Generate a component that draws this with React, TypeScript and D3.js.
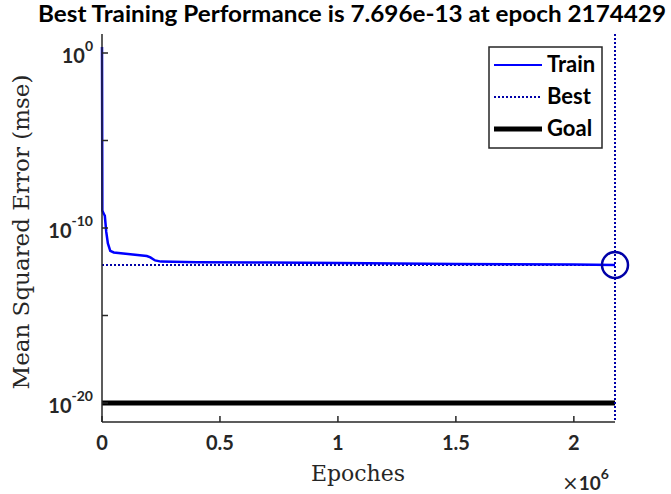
import React from "react";
import * as d3 from "d3";

const epochs = [0, 1500, 6000, 12000, 18000, 25000, 35000, 50000, 120000, 190000, 205000, 225000, 250000, 400000, 700000, 1000000, 1500000, 2000000, 2174429];
const trainMse = [2.2, 1e-9, 7e-10, 5e-10, 6e-11, 1.3e-11, 5e-12, 4e-12, 3.2e-12, 2.5e-12, 2.1e-12, 1.4e-12, 1.2e-12, 1.12e-12, 1.07e-12, 1e-12, 8.9e-13, 8.1e-13, 7.696e-13];
const bestEpoch = 2174429;
const bestPerf = 7.696e-13;
const goal = 1e-20;
const xTicks = [0, 500000, 1000000, 1500000, 2000000];
const xTickLabels = ["0", "0.5", "1", "1.5", "2"];
const yTicks = [1, 1e-5, 1e-10, 1e-15, 1e-20];
const yTickLabels = [
  { v: 1, exp: "0" },
  { v: 1e-10, exp: "-10" },
  { v: 1e-20, exp: "-20" },
];
const legendItems = ["Train", "Best", "Goal"];
const title = "Best Training Performance is 7.696e-13 at epoch 2174429";

const W = 671, H = 494;
const M = { left: 102, right: 615, top: 34, bottom: 422 };
const SANS = "Lato, 'Open Sans', sans-serif";
const SERIF = "'DejaVu Serif', serif";
const AX = "#262626";

export default function App() {
  const x = d3.scaleLinear().domain([0, bestEpoch]).range([M.left, M.right]);
  const y = d3.scaleLog().domain([Math.pow(10, -21.0857), Math.pow(10, 1.0857)]).range([M.bottom, M.top]);
  const line = d3.line<number>().x((_, i) => x(epochs[i])).y((d) => y(d));
  const trainPath = line(trainMse) || "";

  return (
    <svg width={W} height={H} style={{ position: "fixed", left: 0, top: 0, background: "#fff" }}>
      <rect width={W} height={H} fill="#fff" />
      <text x={352} y={22} textAnchor="middle" fontFamily={SANS} fontWeight="bold" fontSize={22} textLength={628} lengthAdjust="spacingAndGlyphs" fill="#000">{title}</text>

      {/* goal */}
      <line x1={x(0)} x2={x(bestEpoch)} y1={y(goal)} y2={y(goal)} stroke="#000" strokeWidth={5} />
      {/* best dotted */}
      <line x1={x(0)} x2={x(bestEpoch)} y1={y(bestPerf)} y2={y(bestPerf)} stroke="#0000a8" strokeWidth={2} strokeDasharray="2 2" />
      <line x1={x(bestEpoch)} x2={x(bestEpoch)} y1={M.top} y2={M.bottom} stroke="#0000a8" strokeWidth={2} strokeDasharray="2 2" />
      {/* train */}
      <path d={trainPath} fill="none" stroke="#0000ff" strokeWidth={2.5} />
      <circle cx={x(bestEpoch)} cy={y(bestPerf)} r={13} fill="none" stroke="#0000a8" strokeWidth={2.5} />

      {/* axes */}
      <line x1={M.left} x2={M.left} y1={M.top} y2={M.bottom} stroke={AX} strokeWidth={1.5} />
      <line x1={M.left} x2={M.right} y1={M.bottom} y2={M.bottom} stroke={AX} strokeWidth={1.5} />
      {xTicks.map((t, i) => (
        <g key={"xt" + i}>
          <line x1={x(t)} x2={x(t)} y1={M.bottom} y2={M.bottom - 6} stroke={AX} strokeWidth={1.5} />
          <text x={x(t)} y={450} textAnchor="middle" fontFamily={SANS} fontWeight="bold" fontSize={20} fill={AX}>{xTickLabels[i]}</text>
        </g>
      ))}
      {yTicks.map((t, i) => (
        <line key={"yt" + i} x1={M.left} x2={M.left + 6} y1={y(t)} y2={y(t)} stroke={AX} strokeWidth={1.5} />
      ))}
      {yTickLabels.map((t, i) => (
        <text key={"yl" + i} x={93} y={y(t.v) + 10} textAnchor="end" fontFamily={SANS} fontWeight="bold" fontSize={20} fill={AX}>
          10<tspan dy={-12} fontSize={14}>{t.exp}</tspan>
        </text>
      ))}

      {/* axis labels */}
      <text x={358} y={481} textAnchor="middle" fontFamily={SERIF} fontSize={22} fill={AX}>Epoches</text>
      <text transform={`translate(29, ${(M.top + M.bottom) / 2 + 4}) rotate(-90)`} textAnchor="middle" fontFamily={SERIF} fontSize={23} fill={AX}>Mean Squared Error (mse)</text>
      <text x={562} y={490} fontFamily={SERIF} fontSize={20} fill={AX}>×<tspan fontFamily={SANS} fontWeight="bold" fontSize={19}>10</tspan><tspan dy={-11} fontFamily={SANS} fontWeight="bold" fontSize={14}>6</tspan></text>

      {/* legend */}
      <rect x={489} y={47} width={113} height={101} fill="#fff" stroke={AX} strokeWidth={1.5} />
      {legendItems.map((name, i) => {
        const ly = 65 + i * 32;
        return (
          <g key={name}>
            {i === 0 && <line x1={494} x2={542} y1={ly} y2={ly} stroke="#0000ff" strokeWidth={2} />}
            {i === 1 && <line x1={494} x2={542} y1={ly} y2={ly} stroke="#0000a8" strokeWidth={2} strokeDasharray="2 2" />}
            {i === 2 && <line x1={494} x2={542} y1={ly} y2={ly} stroke="#000" strokeWidth={5} />}
            <text x={547} y={ly + 7} fontFamily={SANS} fontWeight="bold" fontSize={22} fill="#000">{name}</text>
          </g>
        );
      })}
    </svg>
  );
}
